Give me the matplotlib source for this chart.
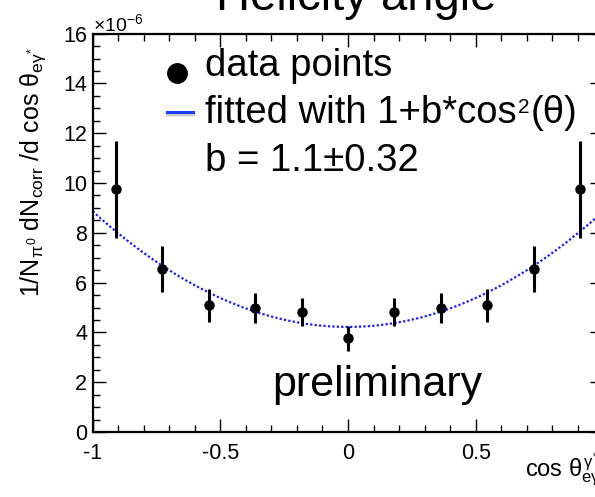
import numpy as np
import matplotlib
matplotlib.use("Agg")
import matplotlib.pyplot as plt
from matplotlib.lines import Line2D

plt.rcParams["font.family"] = ["Liberation Sans", "DejaVu Sans"]
plt.rcParams["mathtext.fontset"] = "custom"
plt.rcParams["mathtext.rm"] = "Liberation Sans"
plt.rcParams["mathtext.it"] = "Liberation Sans"
plt.rcParams["mathtext.bf"] = "Liberation Sans:bold"

# data, y in units of 1e-6
cos_theta = [-0.909, -0.727, -0.545, -0.364, -0.182, 0.0, 0.182, 0.364, 0.545, 0.727, 0.909]
yield_norm = [9.74, 6.54, 5.09, 4.97, 4.81, 3.77, 4.81, 4.97, 5.09, 6.54, 9.74]
yield_err = [1.93, 0.93, 0.66, 0.60, 0.56, 0.50, 0.56, 0.60, 0.66, 0.93, 1.93]

# fit a*(1 + b*cos^2)
fit_a = 4.22
fit_b = 1.1

W, H = 595, 497
fig = plt.figure(figsize=(W / 100, H / 100), dpi=100)
ax = fig.add_axes([92.7 / W, 65 / H, (603.3 - 92.7) / W, (431.7 - 33.3) / H])

ax.errorbar(cos_theta, yield_norm, yerr=yield_err, fmt="o", color="black",
            ms=6.5, elinewidth=2.2, capsize=0, zorder=3)
xs = np.linspace(-1, 1, 400)
ax.plot(xs, fit_a * (1 + fit_b * xs ** 2), color="#1a1aff", lw=1.6,
        linestyle=(0, (1, 1)), zorder=2)

ax.set_xlim(-1, 1)
ax.set_ylim(0, 16)
ax.set_xticks([-1, -0.5, 0, 0.5])
ax.set_xticklabels(["-1", "-0.5", "0", "0.5"])
ax.set_xticks(np.arange(-1, 1.001, 0.1), minor=True)
ax.set_yticks(np.arange(0, 17, 2))
ax.set_yticks(np.arange(0, 16.01, 0.5), minor=True)
ax.tick_params(which="both", direction="in", top=True, right=True,
               labelsize=15.5, width=1)
ax.tick_params(which="major", length=9.5)
ax.tick_params(which="minor", length=5)
ax.tick_params(axis="x", pad=8)
ax.tick_params(axis="y", pad=4)
for s in ax.spines.values():
    s.set_linewidth(1.6)

def fx(px):
    return px / W

def fy(py):
    return 1 - py / H

# title (cut at top, as in the original)
fig.text(fx(356), fy(10), "Helicity angle", fontsize=34, ha="center", va="baseline")
fig.text(fx(93), fy(31), r"$\times10^{-6}$", fontsize=14, ha="left", va="baseline")

# legend, drawn by hand
fig.add_artist(Line2D([fx(177)], [fy(73)], marker="o", color="black", ms=14))
fig.add_artist(Line2D([fx(167), fx(193)], [fy(114), fy(114)], color="#999999",
                      lw=2.5, alpha=0.5))
fig.add_artist(Line2D([fx(167), fx(193)], [fy(112), fy(112)], color="#1a3cff", lw=2.2))
fig.text(fx(205), fy(76), "data points", fontsize=27.5, va="baseline")
t_fit = fig.text(fx(205), fy(123), "fitted with 1+b*cos", fontsize=27.5, va="baseline")
ax.annotate("2", xy=(1, 0), xycoords=t_fit, xytext=(1, 13),
            textcoords="offset points", fontsize=15, va="baseline",
            annotation_clip=False)
ax.annotate("(\u03b8)", xy=(1, 0), xycoords=t_fit, xytext=(10, 0),
            textcoords="offset points", fontsize=27.5, va="bottom",
            annotation_clip=False)
fig.text(fx(205), fy(171), "b = 1.1\u00b10.32", fontsize=27.5, va="baseline")

fig.text(fx(272), fy(396), "preliminary", fontsize=31, va="baseline")

fig.text(fx(33), fy(172),
         r"1/N$_{\pi^{0}}$ dN$_{corr}$ /d cos $\theta_{e\gamma^{*}}$",
         fontsize=18, rotation=90, ha="center", va="center")
fig.text(fx(525), fy(477), r"cos $\theta^{\gamma^{*}}_{e\gamma}$", fontsize=17,
         ha="left", va="baseline")

fig.savefig("out.png", dpi=100)
